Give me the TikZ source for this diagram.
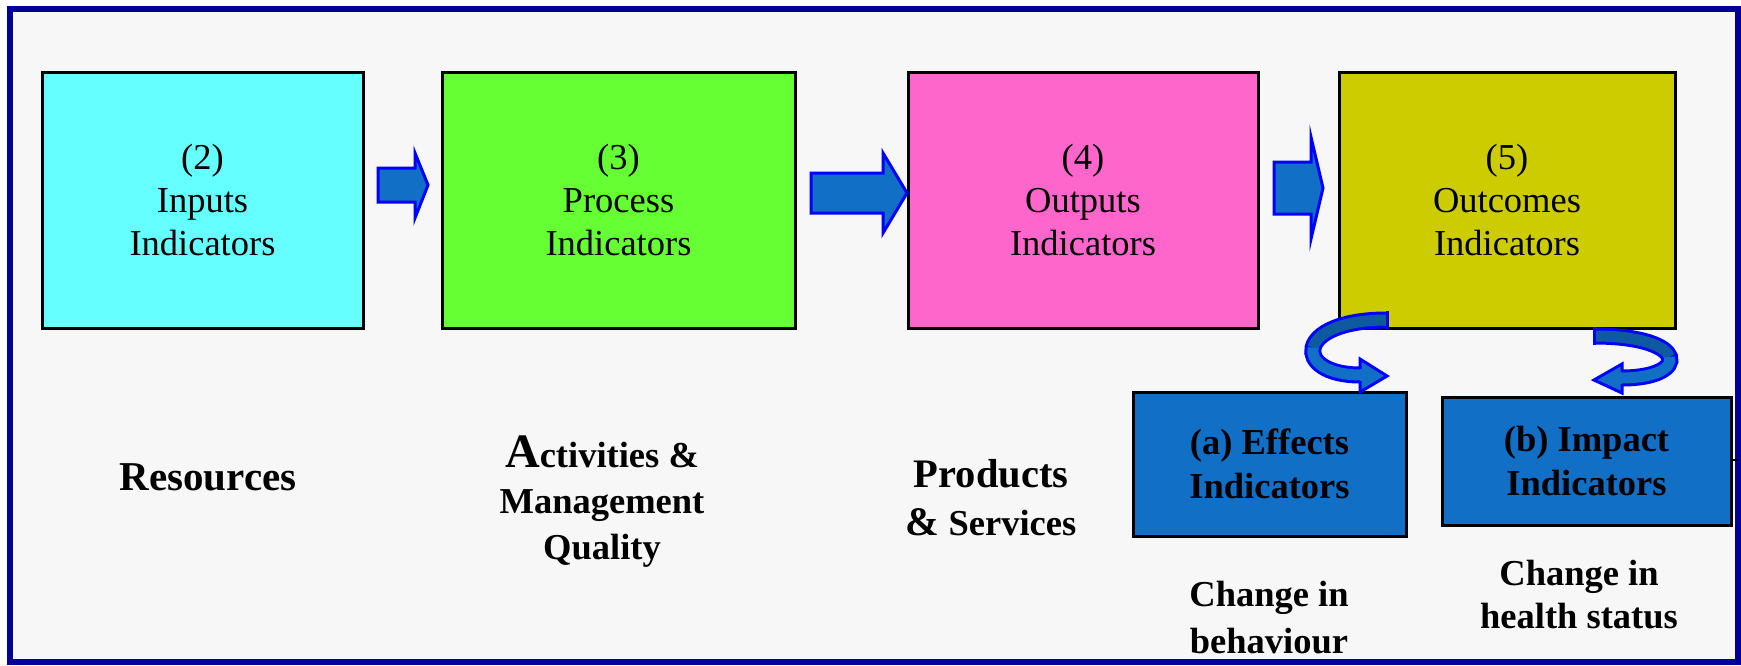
\documentclass[tikz,border=0pt]{standalone}
\usepackage{fontspec}
\setmainfont{Liberation Serif}
\definecolor{framec}{RGB}{0,0,153}
\definecolor{bgc}{RGB}{247,247,247}
\definecolor{cyanc}{RGB}{102,255,255}
\definecolor{greenc}{RGB}{102,255,51}
\definecolor{pinkc}{RGB}{255,102,204}
\definecolor{olivec}{RGB}{204,204,0}
\definecolor{boxblue}{RGB}{17,111,198}
\definecolor{arrowblue}{RGB}{17,111,198}
\definecolor{darkblue}{RGB}{14,90,160}
\definecolor{edgeblue}{RGB}{0,0,255}
\begin{document}
\begin{tikzpicture}[x=1pt,y=-1pt,
  box/.style={draw=black, line width=3pt, inner sep=0pt, align=center,
    font=\fontsize{36.5}{43.3}\selectfont},
  subbox/.style={draw=black, line width=3pt, fill=boxblue, inner sep=0pt, align=center,
    font=\bfseries\fontsize{36.5}{44.4}\selectfont},
  lbl/.style={inner sep=0pt, align=center, font=\bfseries\fontsize{36.5}{46}\selectfont},
  blockarrow/.style={fill=arrowblue, draw=edgeblue, line width=3pt, line join=miter},
  ribbonedge/.style={draw=edgeblue, line width=17pt},
  ribbonback/.style={draw=darkblue, line width=11pt},
  ribbonfront/.style={draw=arrowblue, line width=11pt},
  headfill/.style={fill=arrowblue},
  headedge/.style={draw=edgeblue, line width=3pt, line join=miter}
]
\useasboundingbox (0,0) rectangle (1741,665);
\fill[white] (0,0) rectangle (1741,665);
\draw[draw=framec, fill=bgc, line width=6pt] (10,9) rectangle (1738,662);

% main boxes
\node[box, fill=cyanc, minimum width=321pt, minimum height=256pt] (b1) at (202.5,200) {(2)\\Inputs\\Indicators};
\node[box, fill=greenc, minimum width=353pt, minimum height=256pt] (b2) at (618.5,200) {(3)\\Process\\Indicators};
\node[box, fill=pinkc, minimum width=350pt, minimum height=256pt] (b3) at (1083,200) {(4)\\Outputs\\Indicators};
\node[box, fill=olivec, minimum width=336pt, minimum height=256pt] (b4) at (1507,200) {(5)\\Outcomes\\Indicators};

% sub boxes
\node[subbox, minimum width=273pt, minimum height=144pt] (ba) at (1269.5,464) {(a) Effects\\Indicators};
\node[subbox, minimum width=289pt, minimum height=128pt] (bb) at (1586.5,461) {(b) Impact\\Indicators};

% block arrows
\draw[blockarrow] (378,168) -- (415,168) -- (415,153) -- (428,185) -- (415,218) -- (415,202) -- (378,202) -- cycle;
\draw[blockarrow] (811,173) -- (883,173) -- (883,153) -- (907,193) -- (883,233) -- (883,213) -- (811,213) -- cycle;
\draw[blockarrow] (1274,162) -- (1311,162) -- (1311,137) -- (1323,188) -- (1311,239) -- (1311,214) -- (1274,214) -- cycle;

% left U-turn arrow
\draw[ribbonedge] (1387,320) .. controls (1293,320) and (1293,375) .. (1360,375);
\draw[ribbonback] (1387,320) .. controls (1340,320) and (1316.5,333.75) .. (1313.125,347.5);
\draw[ribbonfront] (1313.125,347.5) .. controls (1309.75,361.25) and (1326.5,375) .. (1361,375);
\fill[headfill] (1360,359) -- (1387,376) -- (1360,392) -- cycle;
\draw[headedge] (1360,369) -- (1360,359) -- (1387,376) -- (1360,392) -- (1360,381);
\draw[draw=edgeblue, line width=3pt] (1387,311) -- (1387,329);

% right U-turn arrow
\draw[ribbonedge] (1594,336) .. controls (1690,336) and (1690,378) .. (1622,378);
\draw[ribbonback] (1594,336) .. controls (1642,336) and (1666,346.5) .. (1669.5,357);
\draw[ribbonfront] (1669.5,357) .. controls (1673,367.5) and (1656,378) .. (1621,378);
\fill[headfill] (1622,364) -- (1594,380) -- (1622,393) -- cycle;
\draw[headedge] (1622,372) -- (1622,364) -- (1594,380) -- (1622,393) -- (1622,384);
\draw[draw=edgeblue, line width=3pt] (1594,327) -- (1594,345);

% small tick at right of box b
\draw[line width=2pt] (bb.east) ++(0,-1) -- ++(5,0);

% labels
\node[lbl] (res) at (208,477) {\fontsize{41}{46}\selectfont Resources};
\node[lbl] (act) at (602,502) {{\fontsize{48}{46}\selectfont A}ctivities \&\\Management\\Quality};
\node[lbl, font=\bfseries\fontsize{36.5}{48}\selectfont] (prod) at (991,498) {{\fontsize{40.5}{48}\selectfont Products}\\{\fontsize{40.5}{48}\selectfont \&} Services};
\node[lbl, font=\bfseries\fontsize{36.5}{46.6}\selectfont] (chb) at (1269,617.5) {Change in\\behaviour};
\node[lbl, font=\bfseries\fontsize{36.5}{43.3}\selectfont] (chh) at (1579,594.5) {Change in\\health status};
\end{tikzpicture}
\end{document}
